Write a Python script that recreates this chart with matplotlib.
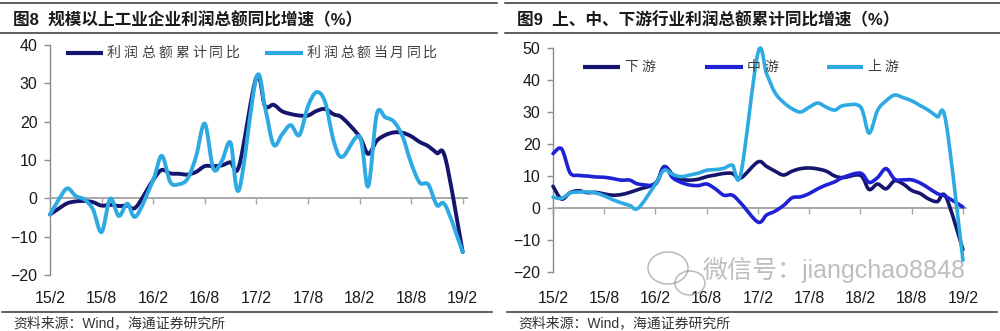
import numpy as np
import matplotlib
matplotlib.use("Agg")
import matplotlib.pyplot as plt
from matplotlib.path import Path
from matplotlib.patches import PathPatch, Ellipse
from matplotlib.lines import Line2D

plt.rcParams['font.family'] = ['Liberation Sans', 'Noto Sans CJK SC']

W, H = 1000, 331

# monthly periods (Jan is merged into Feb in the statistics)
periods = [f"{y}/{m}" for y in (15, 16, 17, 18) for m in range(2, 13)] + ["19/2"]
tick_labels = ['15/2', '15/8', '16/2', '16/8', '17/2', '17/8', '18/2', '18/8', '19/2']

# 图8
profit_cum = [-4.2, -2.7, -1.3, -0.8, -0.7, -1.0, -1.9, -1.7, -2.0, -1.9, -2.3,
              4.8, 7.4, 6.5, 6.4, 6.2, 6.9, 8.4, 8.4, 8.6, 9.4, 8.5,
              31.5, 24.1, 24.4, 22.7, 22.0, 21.6, 21.6, 22.8, 23.3, 21.9, 21.0,
              16.1, 11.6, 15.0, 16.5, 17.2, 17.1, 16.2, 14.7, 13.6, 11.8, 10.3,
              -14.0]
profit_month = [-4.2, -0.4, 2.6, 0.6, -0.3, -2.9, -8.8, -0.1, -4.6, -1.4, -4.7,
                4.8, 11.1, 4.2, 3.7, 5.1, 11.0, 19.5, 7.7, 9.8, 14.5, 2.3,
                31.5, 23.8, 14.0, 16.7, 19.1, 16.5, 24.0, 27.7, 25.1, 14.9, 10.8,
                16.1, 3.1, 21.9, 21.1, 20.0, 16.2, 9.2, 4.1, 3.6, -1.8, -1.9,
                -14.0]

# 图9
downstream = [6.8, 2.8, 4.8, 5.4, 4.8, 4.9, 4.4, 4.0, 4.2, 4.9, 5.8,
              7.8, 12.9, 10.5, 9.0, 8.7, 9.0, 9.8, 10.3, 10.8, 10.8, 9.4,
              14.4, 13.0, 11.5, 10.3, 11.5, 12.3, 12.5, 12.2, 11.5, 10.0, 9.5,
              10.2, 5.8, 7.5, 6.0, 8.5, 7.5, 5.5, 4.5, 2.8, 2.0, 3.5,
              -13.0]
midstream = [17.0, 18.5, 11.0, 10.2, 10.0, 9.7, 9.6, 9.2, 8.7, 8.7, 7.5,
             7.5, 12.9, 9.5, 8.0, 7.2, 7.0, 7.5, 6.0, 4.0, 4.0, 1.5,
             -4.4, -2.2, -1.0, 0.8, 3.2, 3.5, 4.5, 6.0, 7.2, 8.2, 9.6,
             10.9, 8.0, 9.5, 12.3, 9.0, 8.8, 8.8, 7.8, 6.2, 4.5, 3.6,
             0.3]
upstream = [3.4, 3.0, 4.7, 5.0, 5.0, 4.7, 3.8, 2.6, 1.6, 0.8, 0.0,
            7.5, 11.8, 10.5, 9.8, 10.3, 10.9, 11.8, 12.0, 12.4, 13.4, 10.8,
            48.5, 42.0, 36.0, 33.0, 31.0, 30.0, 31.5, 32.8, 31.5, 30.6, 32.0,
            31.6, 23.4, 30.5, 33.5, 35.3, 34.5, 33.5, 32.0, 30.5, 28.5, 27.0,
            -16.3]

NAVY = '#15156e'
SKY = '#2eaae2'
BLUE = '#1f22d4'


def month_pos(p):
    y, m = p.split('/')
    return (int(y) - 15) * 12 + int(m) - 2


x = np.array([month_pos(p) for p in periods], dtype=float)
tick_pos = [month_pos(t) for t in tick_labels]


def smooth_path(xs, ys):
    # Catmull-Rom style bezier through every point
    pts = np.column_stack([xs, ys])
    n = len(pts)
    verts = [pts[0]]
    codes = [Path.MOVETO]
    for i in range(n - 1):
        p0 = pts[max(i - 1, 0)]
        p1 = pts[i]
        p2 = pts[i + 1]
        p3 = pts[min(i + 2, n - 1)]
        verts += [p1 + (p2 - p0) / 6, p2 - (p3 - p1) / 6, p2]
        codes += [Path.CURVE4] * 3
    return Path(verts, codes)


def draw_line(ax, ys, color, lw=2.8):
    patch = PathPatch(smooth_path(x, np.asarray(ys, dtype=float)), facecolor='none',
                      edgecolor=color, lw=lw, capstyle='round', joinstyle='round',
                      zorder=3, clip_on=False)
    ax.add_patch(patch)


def setup_axes(ax, ymin, ymax, xmax, label_pad):
    ax.set_xlim(0, xmax)
    ax.set_ylim(ymin, ymax)
    ax.set_yticks(np.arange(ymin, ymax + 1, 10))
    for s in ('top', 'right'):
        ax.spines[s].set_visible(False)
    ax.spines['left'].set_color('#8c8c8c')
    ax.spines['left'].set_linewidth(1.0)
    ax.spines['bottom'].set_position(('data', 0))
    ax.spines['bottom'].set_color('#a8a8a8')
    ax.spines['bottom'].set_linewidth(1.4)
    ax.tick_params(axis='y', direction='out', length=4, width=1, color='#8c8c8c',
                   labelsize=11.5, labelcolor='#1a1a1a', pad=5)
    ax.set_xticks(tick_pos)
    ax.tick_params(axis='x', direction='out', length=4, width=1, color='#a8a8a8',
                   labelbottom=False)
    sec = ax.secondary_xaxis(0)
    sec.set_xticks(tick_pos, tick_labels)
    sec.tick_params(length=0, pad=label_pad, labelsize=11.5, labelcolor='#1a1a1a')
    sec.spines['bottom'].set_visible(False)


def fx(px):
    return px / W


def fy(py):
    return 1 - py / H


def spaced_text(fig, x0, y0, s, step, **kw):
    for i, ch in enumerate(s):
        fig.text(fx(x0 + i * step), fy(y0), ch, ha='left', va='center', **kw)


def legend_key(fig, x0, x1, y0, color):
    fig.add_artist(Line2D([fx(x0), fx(x1)], [fy(y0), fy(y0)], color=color, lw=3.0,
                          solid_capstyle='butt'))


fig = plt.figure(figsize=(W / 100, H / 100), dpi=100)

# left panel
ax1 = fig.add_axes([fx(50), fy(275), 417 / W, 230 / H])
setup_axes(ax1, -20, 40, 48.5, 11.5)
draw_line(ax1, profit_cum, NAVY)
draw_line(ax1, profit_month, SKY)

# right panel
ax2 = fig.add_axes([fx(553), fy(272), 412.5 / W, 224 / H])
setup_axes(ax2, -20, 50, 48.3, 13.7)
draw_line(ax2, downstream, NAVY, lw=2.6)
draw_line(ax2, midstream, BLUE, lw=2.6)
draw_line(ax2, upstream, SKY, lw=2.6)

# legends
legend_style = dict(fontsize=10, color='#404040')
legend_key(fig, 66, 103, 53, NAVY)
spaced_text(fig, 107, 53, '利润总额累计同比', 17, **legend_style)
legend_key(fig, 265, 303, 53, SKY)
spaced_text(fig, 307, 53, '利润总额当月同比', 16.6, **legend_style)

legend_key(fig, 583, 620, 67, NAVY)
spaced_text(fig, 624, 67, '下游', 17, **legend_style)
legend_key(fig, 705, 743, 67, BLUE)
spaced_text(fig, 747, 67, '中游', 17, **legend_style)
legend_key(fig, 827, 863, 67, SKY)
spaced_text(fig, 867, 67, '上游', 17, **legend_style)

# titles and rules
title_style = dict(fontsize=12, fontweight='bold', color='#1a1a1a', va='center', ha='left')
fig.text(fx(13), fy(20), '图8  规模以上工业企业利润总额同比增速（%）', **title_style)
fig.text(fx(517), fy(20), '图9  上、中、下游行业利润总额累计同比增速（%）', **title_style)

for x0, x1 in ((0, 497), (505, 1000)):
    fig.add_artist(Line2D([fx(x0), fx(x1)], [fy(3), fy(3)], color='#333333', lw=1.1))
    fig.add_artist(Line2D([fx(x0), fx(x1)], [fy(33), fy(33)], color='#333333', lw=1.1))
for x0, x1 in ((2, 492), (507, 997)):
    fig.add_artist(Line2D([fx(x0), fx(x1)], [fy(312), fy(312)], color='#333333', lw=1.1))

source_style = dict(fontsize=10, color='#333333', va='center', ha='left')
fig.text(fx(13), fy(323), '资料来源：Wind，海通证券研究所', **source_style)
fig.text(fx(518), fy(323), '资料来源：Wind，海通证券研究所', **source_style)

# account watermark
wm = dict(color='#8a8a8a', alpha=0.55, zorder=10)
fig.add_artist(Ellipse((fx(668), fy(268)), 40 / W, 32 / H, fill=False, lw=1.2,
                       edgecolor=wm['color'], alpha=wm['alpha']))
fig.add_artist(Ellipse((fx(690), fy(283)), 30 / W, 24 / H, fill=False, lw=1.2,
                       edgecolor=wm['color'], alpha=wm['alpha']))
fig.text(fx(703), fy(270), '微信号：jiangchao8848', fontsize=18, va='center', ha='left', **wm)

fig.savefig('out.png', dpi=100)
